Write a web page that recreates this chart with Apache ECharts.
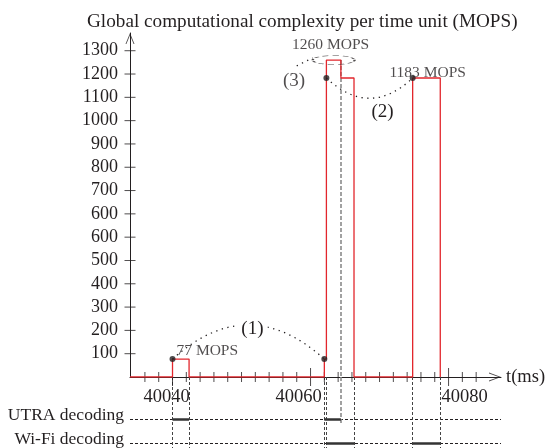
<!DOCTYPE html>
<html>
<head>
<meta charset="utf-8">
<script src="https://cdn.jsdelivr.net/npm/echarts@6/dist/echarts.min.js"></script>
<style>
  html, body { margin: 0; padding: 0; background: #fff; }
  #chart { width: 552px; height: 448px; }
</style>
</head>
<body>
<div id="chart"></div>
<script>
// global load, step function: each value holds until the next time (ms, MOPS)
const loadTimes  = [40033.84, 40040, 40042.4, 40062, 40062.3, 40064.4, 40066.3, 40074.8, 40078.8];
const loadValues = [0, 77, 0, 77, 1260, 1183, 0, 1183, 0];

// decoding activity (ms)
const utraIntervals = [[40040, 40042.4], [40062, 40064.4]];
const wifiIntervals = [[40062.3, 40066.3], [40074.8, 40078.8]];

// marked points on the load curve
const pointTimes  = [40040, 40062, 40062.3, 40074.8];
const pointValues = [77, 77, 1183, 1183];
const pointLabels = ['77 MOPS', '', '', '1183 MOPS'];
const peakLabel = '1260 MOPS';

// tick labels (the original figure prints 600 twice)
const yTickLabels = ['100', '200', '300', '400', '500', '600', '600', '700', '800', '900', '1000', '1100', '1200', '1300'];
const xMajorTicks = [40040, 40060, 40080];
const laneNames = ['UTRA decoding', 'Wi-Fi decoding'];

// because of the doubled 600 tick, everything above 600 sits one tick higher
const toAxis = v => (v > 600 ? v + 100 : v);

const ink = '#231f20';
const red = '#e2262c';
const serif = 'Liberation Serif';
const tMin = 40033.84, tMax = 40087.6;
const yMax = 1476;
const laneMin = -0.75, laneMax = 2.21;
const chevron = 'path://M5,0 L10,11 L9,11 L5,2.2 L1,11 L0,11 Z';

const minorTicks = [];
for (let t = 40036; t <= 40084; t += 2) if (t % 20) minorTicks.push(t);
const yTicks = yTickLabels.map((_, i) => (i + 1) * 100);

// load just before time t
function loadBefore(t) {
  let v = 0;
  loadTimes.forEach((lt, i) => { if (lt < t) v = loadValues[i]; });
  return v;
}
const insideWifi = t => wifiIntervals.some(w => t > w[0] && t < w[1]);

const guides = [], innerGuides = [];
utraIntervals.concat(wifiIntervals).forEach(iv => {
  iv.forEach(t => {
    if (insideWifi(t)) innerGuides.push(t);
    else guides.push({ coords: [[t, laneMin], [t, laneMax]] });
  });
});

const xShift = { 40040: -6, 40060: -12, 40080: 16 };
const xRich = {};
xMajorTicks.forEach(v => {
  const s = xShift[v] || 0;
  xRich['t' + v] = {
    fontFamily: serif, fontSize: 18.5, color: ink,
    padding: s < 0 ? [0, -2 * s, 0, 0] : [0, 0, 0, 2 * s]
  };
});

// tick marks crossing the axes, drawn as thin rect symbols
function tickMarks(points, size) {
  return {
    type: 'scatter', xAxisIndex: 0, yAxisIndex: 0, symbol: 'rect', symbolSize: size,
    silent: true, clip: false, z: 2, itemStyle: { color: ink }, data: points
  };
}

const chart = echarts.init(document.getElementById('chart'));
chart.setOption({
  animation: false,
  title: {
    text: 'Global computational complexity per time unit (MOPS)',
    left: 82, top: 7,
    textStyle: { fontFamily: serif, fontSize: 19.2, fontWeight: 'normal', color: ink }
  },
  grid: [
    { left: 130, right: 51, top: 33, bottom: 71, outerBoundsMode: 'none' },
    { left: 130, right: 51, top: 377, bottom: 0, outerBoundsMode: 'none' }
  ],
  xAxis: [
    {
      type: 'value', gridIndex: 0, min: tMin, max: tMax, position: 'bottom',
      axisLine: { show: true, lineStyle: { color: ink, width: 1 } },
      axisTick: { show: false }, splitLine: { show: false },
      axisLabel: {
        customValues: xMajorTicks, margin: 11,
        formatter: v => '{t' + v + '|' + v + '}', rich: xRich
      },
      name: 't(ms)', nameLocation: 'end', nameGap: 5,
      nameTextStyle: { fontFamily: serif, fontSize: 18.5, color: ink }
    },
    { type: 'value', gridIndex: 1, min: tMin, max: tMax, show: false }
  ],
  yAxis: [
    {
      type: 'value', gridIndex: 0, min: 0, max: yMax,
      axisLine: { show: true, lineStyle: { color: ink, width: 1 } },
      axisTick: { show: false },
      splitLine: { show: false },
      axisLabel: {
        customValues: yTicks, margin: 12,
        formatter: v => yTickLabels[Math.round(v / 100) - 1],
        fontFamily: serif, fontSize: 18, color: ink
      }
    },
    {
      type: 'value', gridIndex: 1, min: laneMin, max: laneMax, inverse: true,
      axisLine: { show: false }, axisTick: { show: false }, splitLine: { show: false },
      axisLabel: {
        customValues: [1, 2], margin: 6,
        formatter: v => laneNames[Math.round(v) - 1],
        fontFamily: serif, fontSize: 17.5, color: ink,
        verticalAlign: 'bottom', lineHeight: 8
      }
    }
  ],
  series: [
    tickMarks(minorTicks.map(t => [t, 0]), [1, 10]),
    tickMarks(xMajorTicks.map(t => [t, 0]), [1, 18]),
    tickMarks(yTicks.map(v => [tMin, v]), [11, 1]),
    { // axis arrows
      type: 'scatter', xAxisIndex: 0, yAxisIndex: 0, symbol: chevron, silent: true, clip: false, z: 2,
      itemStyle: { color: ink },
      data: [
        { value: [tMin, yMax], symbolSize: [9, 11], symbolOffset: [0, 5.5] },
        { value: [tMax, 0], symbolSize: [9, 12], symbolRotate: -90, symbolOffset: [-6, 0] }
      ]
    },
    { // lane lines
      type: 'lines', coordinateSystem: 'cartesian2d', xAxisIndex: 1, yAxisIndex: 1, silent: true,
      lineStyle: { color: ink, width: 1, type: [3, 2], opacity: 1 },
      data: laneNames.map((n, i) => ({ coords: [[tMin, i + 1], [tMax, i + 1]] }))
    },
    { // guides below the axis
      type: 'lines', coordinateSystem: 'cartesian2d', xAxisIndex: 1, yAxisIndex: 1, silent: true,
      lineStyle: { color: '#444', width: 1, type: [3, 2], opacity: 1 },
      data: guides
    },
    { // guide of the UTRA end that falls inside the Wi-Fi burst, lower part
      type: 'lines', coordinateSystem: 'cartesian2d', xAxisIndex: 1, yAxisIndex: 1, silent: true,
      lineStyle: { color: '#8a8a8a', width: 1.6, type: [4, 2], opacity: 1 },
      data: innerGuides.map(t => ({ coords: [[t, laneMin], [t, 1.25]] }))
    },
    { // decoding bars
      type: 'lines', coordinateSystem: 'cartesian2d', xAxisIndex: 1, yAxisIndex: 1, silent: true,
      lineStyle: { color: '#333', width: 2.5, opacity: 1 },
      data: utraIntervals.map(iv => ({ coords: [[iv[0], 1], [iv[1], 1]] }))
        .concat(wifiIntervals.map(iv => ({ coords: [[iv[0], 2], [iv[1], 2]] })))
    },
    { // same guide, inside the bar
      type: 'lines', coordinateSystem: 'cartesian2d', xAxisIndex: 0, yAxisIndex: 0, silent: true, z: 1,
      lineStyle: { color: '#8a8a8a', width: 1.6, type: [4, 2], opacity: 1 },
      data: innerGuides.map(t => ({ coords: [[t, toAxis(loadBefore(t))], [t, 0]] }))
    },
    { // load curve
      type: 'line', xAxisIndex: 0, yAxisIndex: 0, step: 'end', symbol: 'none', z: 3,
      lineStyle: { color: red, width: 1.3 },
      data: loadTimes.map((t, i) => [t, toAxis(loadValues[i])])
    },
    { // arcs (1) and (2), connector of (3)
      type: 'lines', coordinateSystem: 'cartesian2d', xAxisIndex: 0, yAxisIndex: 0, silent: true, z: 4,
      lineStyle: { color: ink, width: 1.3, type: [1.3, 4.5], opacity: 1 },
      label: { show: true, position: 'middle', fontFamily: serif, fontSize: 19, color: ink },
      data: [
        {
          coords: [[pointTimes[0], toAxis(pointValues[0])], [pointTimes[1], toAxis(pointValues[1])]],
          lineStyle: { curveness: 0.45 },
          label: { formatter: '(1)', backgroundColor: '#fff', padding: [2, 4], offset: [4, 16] }
        },
        {
          coords: [[pointTimes[2], toAxis(pointValues[2])], [pointTimes[3], toAxis(pointValues[3])]],
          lineStyle: { curveness: -0.47 },
          label: { formatter: '(2)', offset: [13, 23] }
        },
        {
          coords: [[40058.0, toAxis(1235)], [40060.3, toAxis(1269)]],
          lineStyle: { curveness: 0 },
          label: { show: false }
        }
      ]
    },
    { // "(3)" label
      type: 'scatter', xAxisIndex: 0, yAxisIndex: 0, symbolSize: 0, silent: true, z: 4,
      label: { show: true, position: 'inside', formatter: '(3)', fontFamily: serif, fontSize: 19, color: ink },
      data: [[40057.6, toAxis(1170)]]
    },
    { // ellipse round the peak
      type: 'scatter', xAxisIndex: 0, yAxisIndex: 0, symbol: 'circle', symbolSize: [42, 9], silent: true, z: 4,
      itemStyle: { color: 'rgba(0,0,0,0)', borderColor: ink, borderWidth: 1.1, borderType: [3, 2] },
      label: { show: true, position: 'top', distance: 2, offset: [-3, 0], formatter: peakLabel, fontFamily: serif, fontSize: 15.5, color: ink },
      data: [[(wifiIntervals[0][0] + utraIntervals[1][1]) / 2, toAxis(1260)]]
    },
    { // marked points
      type: 'scatter', xAxisIndex: 0, yAxisIndex: 0, symbolSize: 6, silent: true, z: 5,
      itemStyle: { color: ink },
      label: { fontFamily: serif, fontSize: 15.5, color: ink },
      data: pointTimes.map((t, i) => ({
        value: [t, toAxis(pointValues[i])],
        label: i === 0
          ? { show: true, position: 'right', distance: 5, offset: [-4, -8], formatter: pointLabels[i] }
          : i === 3
            ? { show: true, position: 'top', distance: 5, offset: [15, 11], formatter: pointLabels[i] }
            : { show: false }
      }))
    }
  ]
});
</script>
</body>
</html>
